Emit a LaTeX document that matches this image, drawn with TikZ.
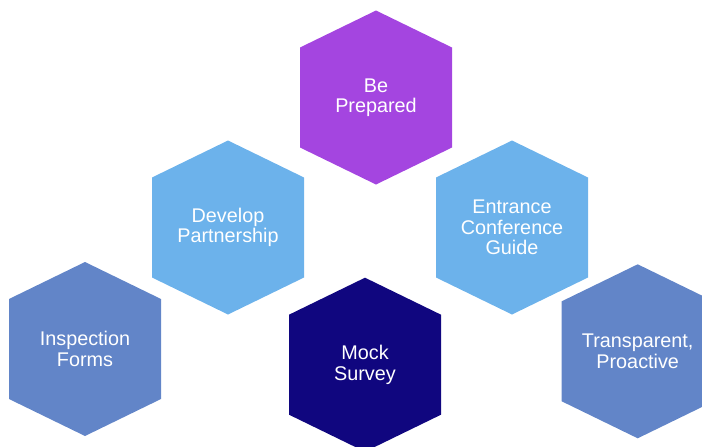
\documentclass[tikz,border=0pt]{standalone}
\usepackage{fontspec}
\setmainfont{Liberation Sans}
\definecolor{cpurple}{HTML}{A445E0}
\definecolor{clight}{HTML}{6CB2EB}
\definecolor{cmid}{HTML}{6285C8}
\definecolor{cdark}{HTML}{10067F}
\tikzset{
  hexlabel/.style={text=white, align=center, font=\fontsize{19.8}{20.5}\selectfont, inner sep=0pt}
}
\newcommand{\hexcell}[5]{%
  \fill[#4] (#2,#3) ++(0,-87) -- ++(76,37) -- ++(0,100) -- ++(-76,37) -- ++(-76,-37) -- ++(0,-100) -- cycle;
  \node[hexlabel] (#1) at (#2,#3) {#5};
}
\begin{document}
\begin{tikzpicture}[x=1pt,y=-1pt]
\useasboundingbox (0,0) rectangle (702,447);
\begin{scope}
\clip (0,0) rectangle (702,447);
\hexcell{prep}{376}{97.5}{cpurple}{Be\\Prepared}
\hexcell{dev}{228}{227.5}{clight}{Develop\\Partnership}
\hexcell{ent}{512}{227.5}{clight}{Entrance\\Conference\\Guide}
\hexcell{insp}{85}{349}{cmid}{Inspection\\Forms}
\hexcell{mock}{365}{364.7}{cdark}{Mock\\Survey}
\hexcell{trans}{637.7}{351.3}{cmid}{Transparent,\\Proactive}
\end{scope}
\end{tikzpicture}
\end{document}
